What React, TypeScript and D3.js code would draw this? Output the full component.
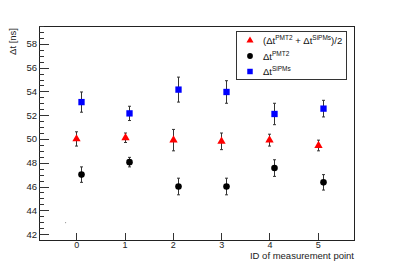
import React, { useRef, useEffect } from 'react';
import * as d3 from 'd3';

// measurement points
const ids = [0, 1, 2, 3, 4, 5];
const avgVals = [50.0, 50.1, 49.9, 49.8, 49.9, 49.45];
const avgErr = [0.6, 0.4, 0.9, 0.7, 0.5, 0.45];
const pmtVals = [47.0, 48.05, 46.0, 46.0, 47.55, 46.35];
const pmtErr = [0.65, 0.4, 0.7, 0.7, 0.7, 0.65];
const sipmVals = [53.1, 52.15, 54.15, 53.95, 52.1, 52.55];
const sipmErr = [0.85, 0.6, 1.05, 0.95, 0.9, 0.7];
const yTicks = [42, 44, 46, 48, 50, 52, 54, 56, 58];

const FONT = '"Liberation Sans", Arial, sans-serif';

const App = () => {
  const svgRef = useRef<SVGSVGElement>(null);

  useEffect(() => {
    const svg = d3.select(svgRef.current);
    svg.selectAll('*').remove();

    const width = 394;
    const height = 267;
    const margin = { top: 26, right: 40, bottom: 27, left: 39 };
    const innerWidth = width - margin.left - margin.right;
    const innerHeight = height - margin.top - margin.bottom;

    const x = d3.scaleLinear().domain([-0.77, 5.75]).range([0, innerWidth]);
    const y = d3.scaleLinear().domain([41.5, 59.5]).range([innerHeight, 0]);

    svg.append('rect').attr('width', width).attr('height', height).attr('fill', 'white');

    const g = svg.append('g').attr('transform', `translate(${margin.left},${margin.top})`);

    // frame
    g.append('rect')
      .attr('x', 0.5)
      .attr('y', 0.5)
      .attr('width', innerWidth)
      .attr('height', innerHeight)
      .attr('fill', 'none')
      .attr('stroke', '#222')
      .attr('stroke-width', 1);

    // y ticks: major every 2, minor every 0.5
    const minor = d3.range(42, 59.6, 0.5);
    g.selectAll('.ytick')
      .data(minor)
      .enter().append('line')
      .attr('x1', 0)
      .attr('x2', d => (yTicks.includes(d) ? 10 : 5))
      .attr('y1', d => Math.round(y(d)) + 0.5)
      .attr('y2', d => Math.round(y(d)) + 0.5)
      .attr('stroke', '#333')
      .attr('stroke-width', 1);

    g.selectAll('.ylabel')
      .data(yTicks)
      .enter().append('text')
      .attr('x', -2)
      .attr('y', d => y(d) + 3.5)
      .attr('text-anchor', 'end')
      .style('font-family', FONT)
      .style('font-size', '9.5px')
      .style('fill', '#222')
      .text(d => d);

    // x ticks
    g.selectAll('.xtick')
      .data(ids)
      .enter().append('line')
      .attr('x1', d => Math.round(x(d)) + 0.5)
      .attr('x2', d => Math.round(x(d)) + 0.5)
      .attr('y1', innerHeight)
      .attr('y2', innerHeight - 7)
      .attr('stroke', '#333');

    g.selectAll('.xlabel')
      .data(ids)
      .enter().append('text')
      .attr('x', d => x(d) + 0.5)
      .attr('y', innerHeight + 8)
      .attr('text-anchor', 'middle')
      .style('font-family', FONT)
      .style('font-size', '9px')
      .style('fill', '#222')
      .text(d => d);

    // axis titles
    g.append('text')
      .attr('x', innerWidth)
      .attr('y', innerHeight + 19)
      .attr('text-anchor', 'end')
      .style('font-family', FONT)
      .style('font-size', '9.5px')
      .style('fill', '#222')
      .text('ID of measurement point');

    svg.append('text')
      .attr('transform', 'translate(16,28) rotate(-90)')
      .attr('text-anchor', 'end')
      .style('font-family', FONT)
      .style('font-size', '9.5px')
      .style('fill', '#222')
      .text('Δt [ns]');

    // stray marker near origin
    g.append('rect')
      .attr('x', x(-0.23))
      .attr('y', y(43))
      .attr('width', 1)
      .attr('height', 1)
      .attr('fill', '#888');

    const series = [
      { vals: avgVals, errs: avgErr, offset: 0, color: '#ff0000', shape: d3.symbolTriangle, size: 30 },
      { vals: pmtVals, errs: pmtErr, offset: 0.1, color: '#000000', shape: d3.symbolCircle, size: 34 },
      { vals: sipmVals, errs: sipmErr, offset: 0.1, color: '#0000ff', shape: d3.symbolSquare, size: 40 },
    ];

    series.forEach(s => {
      const pts = ids.map((id, i) => ({ x: id + s.offset, y: s.vals[i], e: s.errs[i] }));
      const eg = g.append('g').attr('stroke', '#333').attr('stroke-width', 1);
      pts.forEach(p => {
        const px = Math.round(x(p.x)) + 0.5;
        eg.append('line').attr('x1', px).attr('x2', px).attr('y1', y(p.y - p.e)).attr('y2', y(p.y + p.e));
        [p.y - p.e, p.y + p.e].forEach(v => {
          eg.append('line').attr('x1', px - 1.5).attr('x2', px + 1.5).attr('y1', y(v)).attr('y2', y(v));
        });
      });
      g.selectAll(null)
        .data(pts)
        .enter().append('path')
        .attr('transform', d => `translate(${Math.round(x(d.x)) + 0.5},${y(d.y)})`)
        .attr('d', d3.symbol().type(s.shape).size(s.size)())
        .attr('fill', s.color);
    });

    // legend
    const lg = svg.append('g').attr('transform', 'translate(236.5,31.5)');
    lg.append('rect')
      .attr('width', 110)
      .attr('height', 48)
      .attr('fill', 'white')
      .attr('stroke', '#333');

    const legendRows = [
      { shape: d3.symbolTriangle, color: '#ff0000', size: 22, y: 9 },
      { shape: d3.symbolCircle, color: '#000000', size: 26, y: 24.5 },
      { shape: d3.symbolSquare, color: '#0000ff', size: 30, y: 40 },
    ];
    legendRows.forEach(r => {
      lg.append('path')
        .attr('transform', `translate(13.5,${r.y})`)
        .attr('d', d3.symbol().type(r.shape).size(r.size)())
        .attr('fill', r.color);
    });

    const addText = (yy: number, parts: [string, boolean][]) => {
      const t = lg.append('text')
        .attr('x', 26.5)
        .attr('y', yy)
        .style('font-family', FONT)
        .style('font-size', '9.5px')
        .style('fill', '#111');
      let prevSup = false;
      parts.forEach(([txt, sup]) => {
        const ts = t.append('tspan').text(txt);
        if (sup) ts.attr('dy', -4).style('font-size', '6.5px');
        else ts.attr('dy', prevSup ? 4 : 0);
        prevSup = sup;
      });
    };

    addText(12.5, [['(Δt', false], ['PMT2', true], [' + Δt', false], ['SiPMs', true], [')/2', false]]);
    addText(28, [['Δt', false], ['PMT2', true]]);
    addText(43.5, [['Δt', false], ['SiPMs', true]]);
  }, []);

  return (
    <svg
      ref={svgRef}
      width={394}
      height={267}
      style={{ position: 'absolute', left: 0, top: 0, display: 'block' }}
    />
  );
};

export default App;
